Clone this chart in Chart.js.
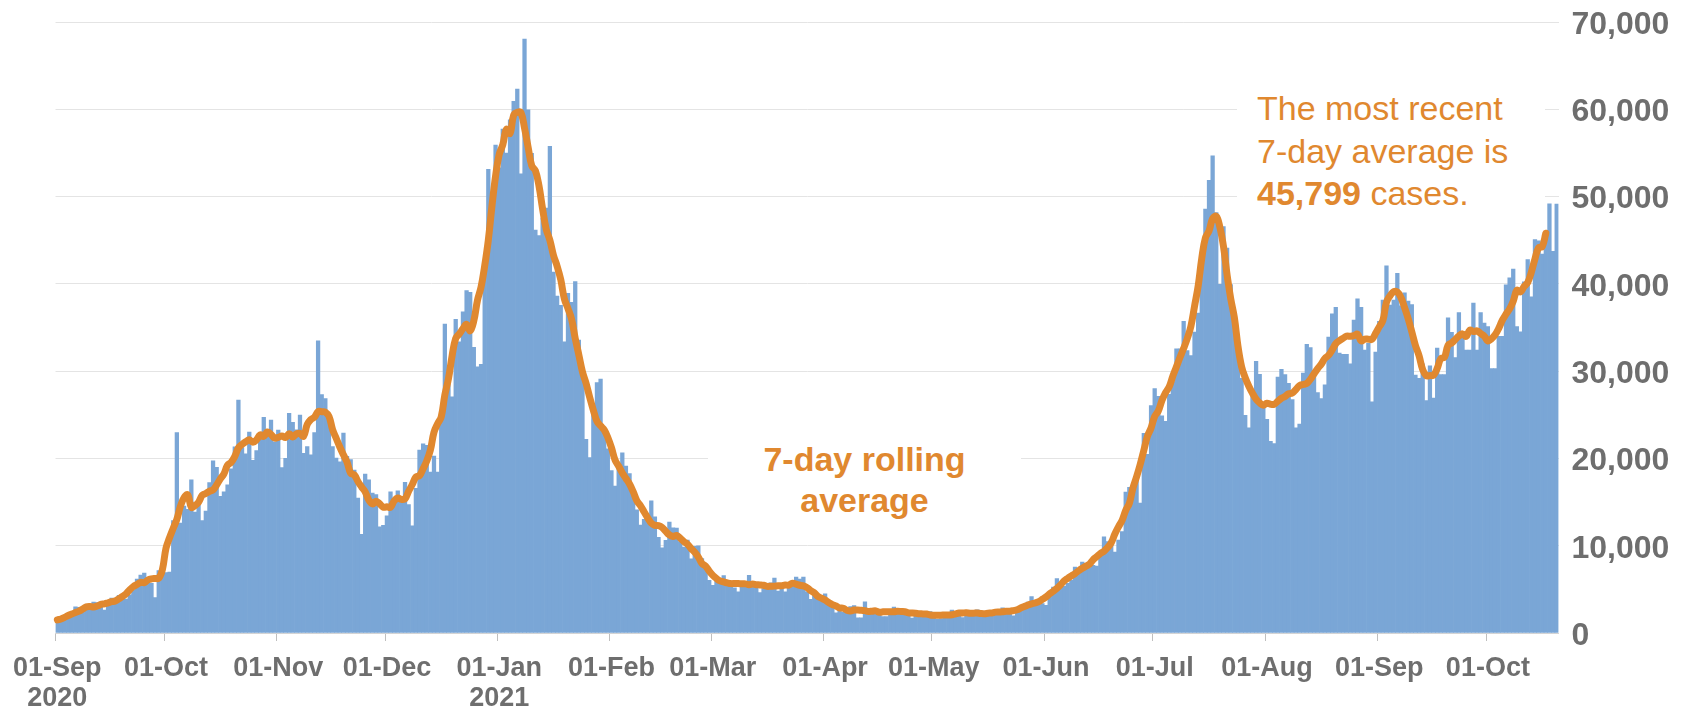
<!DOCTYPE html>
<html>
<head>
<meta charset="utf-8">
<script src="https://cdn.jsdelivr.net/npm/chart.js@4/dist/chart.umd.min.js"></script>
<style>
  body { margin: 0; background: #fff; }
  #wrap { position: relative; width: 1685px; height: 706px; }
  .note { position: absolute; background: #fff; color: #e0882f; font-family: "Liberation Sans", Arial, sans-serif; font-size: 34px; }
  #recent { left: 1237px; top: 80px; width: 308px; height: 135px; padding-top: 7px; padding-left: 20px; box-sizing: border-box; line-height: 42.5px; }
  #rolling { left: 708px; top: 430px; width: 313px; height: 95px; padding-top: 9px; box-sizing: border-box; text-align: center; font-weight: bold; line-height: 41px; }
</style>
</head>
<body>
<div id="wrap">
  <canvas id="grafico"></canvas>
  <div class="note" id="rolling">7-day rolling<br>average</div>
  <div class="note" id="recent">The most recent<br>7-day average is<br><b>45,799</b> cases.</div>
</div>
<script>
// daily reported cases, one array per month (01-Sep-2020 .. 20-Oct-2021)
const casos_sep20 = [1295,1508,1735,1940,1813,2988,2948,2420,2659,2919,3539,3497,3330,2621,3105,3991,3395,4322,4422,3899,4368,4926,6178,6634,6874,6042,5693,4044,7143,7108];
const casos_oct20 = [6914,6968,12872,22961,12594,14542,14162,17540,13864,15166,12872,13972,17234,19724,18980,15650,16171,16982,18804,21331,26688,21242,20530,23012,19790,20890,22885,24701,23065,24405,21915];
const casos_nov20 = [23254,18950,20018,25177,24141,23287,24957,20572,21350,20412,22950,33470,27301,26860,24962,21363,20051,19609,22915,20252,19875,18662,15450,11299,18213,17555,16022,15871,12155,12330];
const casos_dec20 = [13430,16170,14879,16298,15539,17272,14718,12282,16578,20964,21672,21502,18447,20263,18450,25161,35383,28507,27052,35928,33364,36804,39237,39036,32725,30501,30770,41385,53135,50023,55892];
const casos_jan21 = [53285,57725,54990,58784,60916,62322,52618,68053,59937,54940,46169,45533,47525,48682,55761,41346,38598,37535,33355,38905,37892,40261,33552,30004,22195,20089,25308,28680,29079,23275,21088];
const casos_feb21 = [18607,16840,19202,20634,19114,18262,15845,14104,12364,13013,13494,15144,13308,10972,9765,10625,12718,12057,12027,10406,9834,10641,8489,9938,9985,8523,7434,6035];
const casos_mar21 = [5455,6391,5766,6573,6040,5534,5177,4712,5766,5926,6609,5672,5534,4618,5089,5294,5758,6303,4802,5587,4712,5342,5379,6397,6187,6397,4715,3862,4654,4052,4040];
const casos_apr21 = [4479,3402,3423,2297,2762,2379,2763,3030,3150,1730,1730,3568,2472,2491,2672,2596,1882,1882,2524,2963,2396,2729,2678,2206,1712,2381,2064,2166,2491,2445];
const casos_may21 = [2000,1600,1649,1946,2166,2613,2490,2047,1770,2357,2474,2284,2657,2193,2027,1926,1979,2412,2696,2874,2829,2235,1979,2439,2493,3180,3542,4182,3398,3240,3383];
const casos_jun21 = [3165,4330,5274,6238,5765,5341,5683,6048,7540,7393,8125,7738,7490,7742,7673,9055,11007,10476,10321,9284,10633,11625,16135,16703,15810,18270,14876,22868,20479,26068];
const casos_jul21 = [27989,27125,24885,24248,27334,28773,32548,32551,35707,32367,31772,34471,36660,42302,48553,51870,54674,48161,39950,46558,44104,39906,36389,31795,29173,24950,23511,27734,31117,29622,26144];
const casos_aug21 = [24470,21952,21691,29312,30215,29612,28612,26750,23510,23921,29773,33074,32700,29520,27555,26852,28438,33904,36572,37314,32058,31914,31914,30838,35847,38281,37314,32406,33196,26476,32181];
const casos_sep21 = [35693,38154,42076,37578,38154,41192,37489,38975,38013,37622,29547,29173,30825,26628,30597,26911,32651,29612,29612,36100,34460,31564,36710,34526,32406,32406,37800,32400,36722,35500];
const casos_oct21 = [35100,30300,30300,34000,34000,39900,40700,41700,35100,34500,40224,42776,38520,45066,44932,43423,45140,49156,43738,49139];

// centred 7-day rolling average
const media_sep20 = [1510,1610,1800,2010,2170,2340,2510,2740,2990,3030,2990,3090,3270,3340,3460,3590,3670,3930,4190,4500,4960,5330,5560,5810,5760,6070,6200,6240,6260,7240];
const media_oct20 = [9710,10940,12000,13010,14530,15510,15840,14400,14600,14990,15770,15990,16240,16390,16970,17660,18240,19240,19560,20240,21210,21610,21910,22140,21860,22130,22690,22530,23030,22760,22340];
const media_nov20 = [22410,22560,22400,22840,22460,22800,22860,22540,23890,24460,24730,25360,25360,25310,24830,23310,22310,21310,20410,19570,18310,18110,17360,16740,16170,15240,14790,15090,14800,14410];
const media_dec20 = [14460,14400,15130,15470,15310,15370,16240,17010,17870,18030,18830,19710,20940,23000,23970,24770,27270,29140,31760,33760,34270,34870,35360,34630,35770,38100,39640,42060,45000,48890,52340];
const media_jan21 = [54830,55940,57700,57230,59340,59660,59640,57840,55640,53530,52970,51210,48560,46230,44990,43260,42030,40490,38270,37170,35940,33760,31860,29910,28600,27000,25530,24260,23740,23270,22400];
const media_feb21 = [21240,19810,19100,18340,17700,17070,16190,15170,14600,13890,13200,12590,12330,12290,12090,11640,11230,11060,11170,10870,10470,10170,9670,9240,8700,7970,7670,7090];
const media_mar21 = [6600,6240,5970,5860,5740,5660,5670,5670,5630,5630,5540,5600,5530,5510,5470,5340,5360,5370,5400,5410,5500,5490,5710,5590,5470,5390,5200,4860,4610,4190,4000];
const media_apr21 = [3770,3500,3260,3090,2870,2840,2600,2510,2630,2640,2600,2560,2470,2500,2530,2370,2440,2430,2430,2440,2490,2460,2440,2310,2290,2260,2210,2190,2170,2060];
const media_may21 = [2030,2030,2040,2060,2060,2090,2200,2290,2300,2310,2270,2270,2290,2230,2210,2270,2300,2390,2410,2430,2490,2500,2570,2660,2860,3030,3200,3340,3440,3600,3860];
const media_jun21 = [4140,4490,4790,5110,5510,5970,6270,6540,6810,7130,7410,7660,7890,8400,8740,9110,9370,9790,10340,11340,12160,12910,14060,14860,16610,17890,19310,20930,22540,23490];
const media_jul21 = [24810,25440,26630,27540,28200,29430,30500,31590,32610,33740,35140,37430,39740,42930,45270,46060,47470,47730,46490,44270,41000,38290,36140,32840,30500,29240,28270,27460,26790,26360,26100];
const media_aug21 = [26330,26200,26200,26560,26890,27100,27410,27490,27900,28340,28470,28590,29070,29710,30300,30800,31460,31810,32430,33140,33490,33760,34000,34000,34060,34240,33470,33670,33660,33640,34330];
const media_sep21 = [35070,35790,37890,38640,39100,39070,38430,37270,35990,34500,32940,31760,30170,29470,29490,29540,30300,31430,31570,32970,33230,33630,34030,34270,33970,34700,34530,34610,34310,34010];
const media_oct21 = [33470,33700,34160,34900,35840,36530,37130,38010,39270,39070,39700,40160,41340,42860,44140,44270,45799,null,null,null];

const meses = ['Jan','Feb','Mar','Apr','May','Jun','Jul','Aug','Sep','Oct','Nov','Dec'];
const anos_rotulo = {'2020-8': '2020', '2021-0': '2021'};

const casos = [].concat(casos_sep20, casos_oct20, casos_nov20, casos_dec20, casos_jan21, casos_feb21,
    casos_mar21, casos_apr21, casos_may21, casos_jun21, casos_jul21, casos_aug21, casos_sep21, casos_oct21);
const media = [].concat(media_sep20, media_oct20, media_nov20, media_dec20, media_jan21, media_feb21,
    media_mar21, media_apr21, media_may21, media_jun21, media_jul21, media_aug21, media_sep21, media_oct21);

// one category per day
let datas = [];
for (let i = 0; i < casos.length; i++) {
    datas.push(new Date(2020, 8, 1 + i));
}
let rotulos = datas.map(d => String(d.getDate()).padStart(2, '0') + '-' + meses[d.getMonth()]);

function inicioDoMes(i) {
    return i < datas.length && datas[i].getDate() === 1;
}

const cinza = '#6e6e6e';
const fonte = "'Liberation Sans', Arial, sans-serif";

var ctx = document.getElementById("grafico");
var grafico = new Chart(ctx, {
    type: 'bar',
    data: {
        labels: rotulos,
        datasets: [{
            type: 'line',
            label: '7-day rolling average',
            data: media,
            borderColor: '#e0882f',
            borderWidth: 7,
            pointRadius: 0,
            tension: 0.4,
            borderCapStyle: 'round',
            borderJoinStyle: 'round',
            order: 0
        }, {
            label: 'Cases',
            data: casos,
            backgroundColor: '#7aa6d6',
            borderWidth: 0,
            barPercentage: 1,
            categoryPercentage: 1,
            order: 1
        }]
    },
    options: {
        responsive: true,
        maintainAspectRatio: false,
        animation: false,
        layout: { padding: { left: 54, top: 22, right: 0, bottom: 0 } },
        plugins: { legend: { display: false }, tooltip: { enabled: false } },
        scales: {
            x: {
                offset: true,
                afterFit: s => { s.height = 73; },
                grid: {
                    offset: true,
                    drawOnChartArea: false,
                    tickLength: 8,
                    color: c => inicioDoMes(c.index) ? '#bfbfbf' : 'rgba(0,0,0,0)'
                },
                border: { display: true, color: '#d4d4d4' },
                ticks: {
                    autoSkip: false,
                    maxRotation: 0,
                    minRotation: 0,
                    padding: 13,
                    color: cinza,
                    font: { family: fonte, size: 27, weight: 'bold', lineHeight: 1.1 },
                    callback: function(valor, i) {
                        if (!inicioDoMes(i)) return '';
                        let d = datas[i];
                        let ano = anos_rotulo[d.getFullYear() + '-' + d.getMonth()];
                        return ano ? [rotulos[i], ano] : rotulos[i];
                    }
                }
            },
            y: {
                position: 'right',
                min: 0,
                max: 70000,
                afterFit: s => { s.width = 126.5; },
                grid: { color: '#e4e4e4', drawTicks: true, tickLength: 13, tickColor: 'rgba(0,0,0,0)' },
                border: { display: false },
                ticks: {
                    stepSize: 10000,
                    padding: 0,
                    labelOffset: 3,
                    color: cinza,
                    font: { family: fonte, size: 32, weight: 'bold' },
                    callback: v => v.toLocaleString('en-US')
                }
            }
        }
    }
});
</script>
</body>
</html>
